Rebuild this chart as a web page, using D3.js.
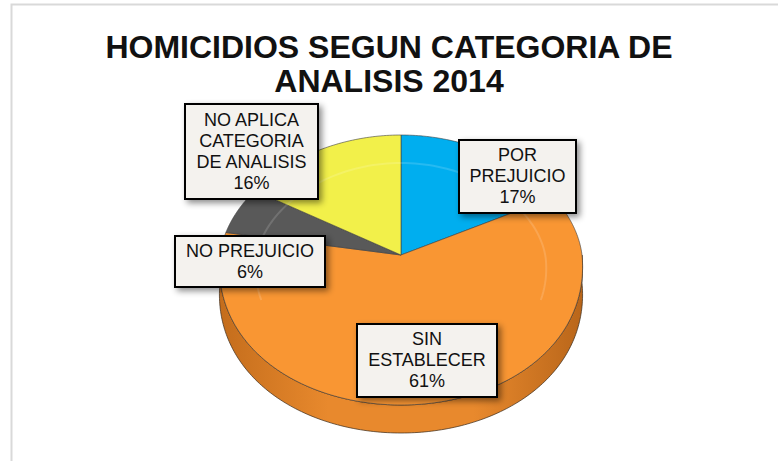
<!DOCTYPE html>
<html>
<head>
<meta charset="utf-8">
<script src="https://cdn.jsdelivr.net/npm/d3@7"></script>
<style>
  body { margin: 0; background: #fff; }
  text { font-family: 'Liberation Sans', Arial, sans-serif; }
</style>
</head>
<body>
<div id="chart"></div>
<script>
// Data
var categories = ['POR PREJUICIO', 'SIN ESTABLECER', 'NO PREJUICIO', 'NO APLICA CATEGORIA DE ANALISIS'];
var values = [17, 61, 6, 16];
var labelLines = [
  ['POR', 'PREJUICIO', '17%'],
  ['SIN', 'ESTABLECER', '61%'],
  ['NO PREJUICIO', '6%'],
  ['NO APLICA', 'CATEGORIA', 'DE ANALISIS', '16%']
];
var colors = ['#00aeef', '#f99633', '#595959', '#f2f04a'];
var titleLines = ['HOMICIDIOS SEGUN CATEGORIA DE', 'ANALISIS 2014'];

// Layout
var w = 778;
var h = 461;
var cx = 401, cy = 255;   // apex of the pie
var rx = 181;             // horizontal radius
var ryBack = 120;         // back half is squashed (perspective)
var ryFront = 150;
var depth = 28;
// label boxes (x, y, width, height)
var labelBoxes = [
  [459, 140, 117, 73],
  [357, 324, 140, 73],
  [175, 236, 150, 51],
  [185, 104, 133, 95]
];

var svg = d3.select('#chart')
  .append('svg')
  .attr('width', w)
  .attr('height', h);

var defs = svg.append('defs');

var shadow = defs.append('filter')
  .attr('id', 'shadow')
  .attr('x', '-20%').attr('y', '-20%')
  .attr('width', '150%').attr('height', '150%');
shadow.append('feDropShadow')
  .attr('dx', 3).attr('dy', 3)
  .attr('stdDeviation', 3)
  .attr('flood-color', '#000')
  .attr('flood-opacity', 0.45);

var sideGrad = defs.append('linearGradient')
  .attr('id', 'side-grad')
  .attr('x1', '0%').attr('x2', '100%');
sideGrad.append('stop').attr('offset', '0%').attr('stop-color', '#c46d1c');
sideGrad.append('stop').attr('offset', '30%').attr('stop-color', '#e8892d');
sideGrad.append('stop').attr('offset', '70%').attr('stop-color', '#e8892d');
sideGrad.append('stop').attr('offset', '100%').attr('stop-color', '#b9661a');

// outer frame
svg.append('rect')
  .attr('x', 11.5)
  .attr('y', 4.5)
  .attr('width', w)
  .attr('height', h + 20)
  .attr('fill', 'none')
  .attr('stroke', '#d9d9d9')
  .attr('stroke-width', 2);

// Title
svg.append('g')
  .selectAll('text')
  .data(titleLines)
  .enter()
  .append('text')
  .attr('x', 389)
  .attr('y', (d, i) => 58 + i * 34)
  .attr('text-anchor', 'middle')
  .attr('font-size', 32)
  .attr('font-weight', 'bold')
  .attr('fill', '#111')
  .text(d => d);

// project an angle (clockwise from 12 o'clock) onto the tilted disc
var project = function (a, dy) {
  var s = Math.sin(a), c = Math.cos(a);
  var ry = c > 0 ? ryBack : ryFront;
  var x = cx + rx * s * (1 - 0.08 * c);
  var y = cy - ry * c + (dy || 0);
  return [x, y];
};

var arcPoints = function (a0, a1, dy) {
  var pts = [];
  var n = Math.max(2, Math.ceil((a1 - a0) / (Math.PI / 180)));
  for (var i = 0; i <= n; i++) {
    pts.push(project(a0 + (a1 - a0) * i / n, dy));
  }
  return pts;
};

var pie = d3.pie().sort(null).value(d => d);
var arcs = pie(values);

var line = d3.line();

// side wall (front half of the disc)
var sides = svg.append('g').attr('class', 'sides');
arcs.forEach((d, i) => {
  var a0 = Math.max(d.startAngle, Math.PI / 2);
  var a1 = Math.min(d.endAngle, Math.PI * 3 / 2);
  if (a1 <= a0) return;
  var top = arcPoints(a0, a1, 0);
  var bottom = arcPoints(a0, a1, depth).reverse();
  sides.append('path')
    .attr('d', line(top.concat(bottom)) + 'Z')
    .attr('fill', i === 1 ? 'url(#side-grad)' : d3.color(colors[i]).darker(0.6))
    .attr('stroke', '#3a2a1a')
    .attr('stroke-width', 0.7);
});

// top surface
var tops = svg.append('g').attr('class', 'tops');
tops.selectAll('path')
  .data(arcs)
  .enter()
  .append('path')
  .attr('d', d => line([[cx, cy]].concat(arcPoints(d.startAngle, d.endAngle, 0))) + 'Z')
  .attr('fill', (d, i) => colors[i])
  .attr('stroke', '#404040')
  .attr('stroke-width', 0.6)
  .attr('stroke-linejoin', 'round');

// faint bevel highlight on the back of the top surface
var bevel = [];
for (var k = -110; k <= 110; k += 2) {
  var p = project(k * Math.PI / 180, 0);
  bevel.push([cx + (p[0] - cx) * 0.8, cy + (p[1] - cy) * 0.8 + 4]);
}
svg.append('path')
  .attr('d', line(bevel))
  .attr('fill', 'none')
  .attr('stroke', '#fff')
  .attr('stroke-opacity', 0.15)
  .attr('stroke-width', 2);

// Labels
var labels = svg.append('g').attr('class', 'labels');
var label = labels.selectAll('g')
  .data(arcs)
  .enter()
  .append('g');

label.append('rect')
  .attr('x', (d, i) => labelBoxes[i][0])
  .attr('y', (d, i) => labelBoxes[i][1])
  .attr('width', (d, i) => labelBoxes[i][2])
  .attr('height', (d, i) => labelBoxes[i][3])
  .attr('fill', '#f4f2ee')
  .attr('stroke', '#000')
  .attr('stroke-width', 2)
  .attr('filter', 'url(#shadow)');

label.each(function (d, i) {
  var b = labelBoxes[i];
  var lines = labelLines[i];
  var lh = 21;
  var y0 = b[1] + b[3] / 2 - (lines.length * lh) / 2 + 16;
  d3.select(this).selectAll('text')
    .data(lines)
    .enter()
    .append('text')
    .attr('x', b[0] + b[2] / 2)
    .attr('y', (t, j) => y0 + j * lh)
    .attr('text-anchor', 'middle')
    .attr('font-size', 18)
    .attr('fill', '#111')
    .text(t => t);
});
</script>
</body>
</html>
